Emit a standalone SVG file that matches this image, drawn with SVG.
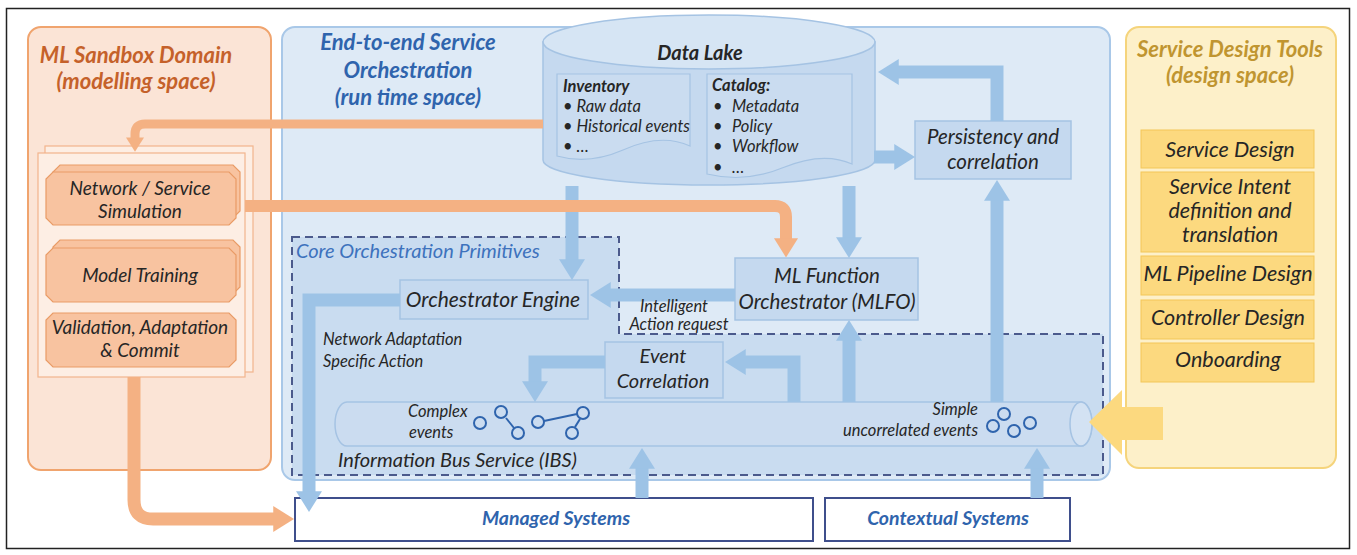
<svg xmlns="http://www.w3.org/2000/svg" width="1357" height="555" viewBox="0 0 1357 555">
<defs>
<style>
text{font-family:Lato,"Open Sans","Liberation Sans",sans-serif;font-style:italic;fill:#262626}
.t{font-weight:bold;font-size:22px}
.to{fill:#c5612a}
.tb{fill:#2f64ad}
.tg{fill:#c09530}
.ln{font-size:19px}
.rn{font-size:21.5px}
.bn{font-size:20.5px}
.dl{font-size:16.5px}
.sm{font-size:16.5px}
.m{text-anchor:middle}
.r{text-anchor:end}
.onode{fill:#f8c3a0;stroke:#e99b66;stroke-width:1.2}
.bbox{fill:#c5d9ef;stroke:#a5c3e3;stroke-width:1.5}
.ybox{fill:#fcd97f;stroke:#f3c658;stroke-width:1}
.sys{fill:#fff;stroke:#3f4f8c;stroke-width:2}
.syst{font-weight:bold;font-size:19.5px;fill:#2f64ad}
.ba{fill:none;stroke:#9dc3e6;stroke-width:13;marker-end:url(#hb)}
.oa{fill:none;stroke:#f4b183;marker-end:url(#ho)}
.ev{fill:none;stroke:#2f64ad;stroke-width:2}
</style>
<marker id="hb" viewBox="0 0 8 10" refX="0.3" refY="5" markerWidth="1.6" markerHeight="2" orient="auto" markerUnits="strokeWidth"><path d="M0,0 L8,5 L0,10 z" fill="#9dc3e6"/></marker>
<marker id="ho" viewBox="0 0 8 10" refX="0.3" refY="5" markerWidth="1.6" markerHeight="2" orient="auto" markerUnits="strokeWidth"><path d="M0,0 L8,5 L0,10 z" fill="#f4b183"/></marker>
</defs>
<rect x="0" y="0" width="1357" height="555" fill="#fff"/>
<rect x="6.5" y="8.5" width="1343" height="540" fill="none" stroke="#222" stroke-width="1.5"/>

<g id="ml-sandbox">
<rect x="28" y="27" width="243" height="443" rx="13" fill="#fbe4d6" stroke="#f0a46e" stroke-width="2"/>
<text class="t to m" x="136" y="63">ML Sandbox Domain</text>
<text class="t to m" x="136" y="89">(modelling space)</text>
<rect x="45" y="146" width="208" height="226" fill="#fdeee4" stroke="#f2b48c" stroke-width="1.2"/>
<rect x="38" y="153" width="207" height="224" fill="#fdeee4" stroke="#f2b48c" stroke-width="1.2"/>
</g>
<g id="sim">
<polygon class="onode" points="60,165 233,165 240,172 240,211 233,218 60,218 53,211 53,172"/>
<polygon class="onode" points="53,172 229,172 236,179 236,218 229,225 53,225 46,218 46,179"/>
<text class="ln m" x="140" y="195">Network / Service</text>
<text class="ln m" x="140" y="218">Simulation</text>
</g>
<g id="training">
<polygon class="onode" points="60,240 233,240 240,247 240,287 233,294 60,294 53,287 53,247"/>
<polygon class="onode" points="53,248 229,248 236,255 236,295 229,302 53,302 46,295 46,255"/>
<text class="ln m" x="140" y="282">Model Training</text>
</g>
<g id="validation">
<polygon class="onode" points="53,313 229,313 236,320 236,360 229,367 53,367 46,360 46,320"/>
<text class="ln m" x="140" y="334">Validation, Adaptation</text>
<text class="ln m" x="140" y="357">&amp; Commit</text>
</g>

<g id="orchestration">
<rect x="282" y="27" width="828" height="453" rx="13" fill="#deeaf6" stroke="#a9c8e8" stroke-width="2"/>
<text class="t tb m" x="408" y="50">End-to-end Service</text>
<text class="t tb m" x="408" y="78">Orchestration</text>
<text class="t tb m" x="408" y="105">(run time space)</text>
</g>
<g id="core-primitives">
<path d="M292,237 H619 V334 H1103 V475 H292 Z" fill="#c9dcf0" stroke="#4b5a8c" stroke-width="2" stroke-dasharray="8 5"/>
<text x="296" y="258" style="fill:#3d72bd;font-size:20px">Core Orchestration Primitives</text>
</g>

<g id="design-tools">
<rect x="1126" y="27" width="210" height="441" rx="13" fill="#fdf0c9" stroke="#f5d47c" stroke-width="2"/>
<text class="t tg m" x="1230" y="57">Service Design Tools</text>
<text class="t tg m" x="1230" y="83">(design space)</text>
</g>
<g id="service-design"><rect class="ybox" x="1141" y="130" width="173" height="38"/><text class="rn m" x="1230" y="157">Service Design</text></g>
<g id="service-intent"><rect class="ybox" x="1141" y="172" width="173" height="80"/><text class="rn m" x="1230" y="194">Service Intent</text><text class="rn m" x="1230" y="218">definition and</text><text class="rn m" x="1230" y="242">translation</text></g>
<g id="ml-pipeline"><rect class="ybox" x="1141" y="256" width="173" height="39"/><text class="rn m" x="1228" y="281">ML Pipeline Design</text></g>
<g id="controller"><rect class="ybox" x="1141" y="300" width="173" height="39"/><text class="rn m" x="1228" y="325">Controller Design</text></g>
<g id="onboarding"><rect class="ybox" x="1141" y="343" width="173" height="39"/><text class="rn m" x="1228" y="367">Onboarding</text></g>

<g id="data-lake">
<path d="M543,42 L543,160 A166,25 0 0 0 875,160 L875,42 Z" fill="#c5d9ef" stroke="#a5c3e3" stroke-width="1.5"/>
<ellipse cx="709" cy="42" rx="166" ry="27" fill="#d6e5f4" stroke="#a5c3e3" stroke-width="1.5"/>
<text class="m" x="700" y="60" style="font-weight:bold;font-size:20px">Data Lake</text>
<path d="M557,74 H690 V146 C668,136 645,140 623,150 C600,160 578,162 557,156 Z" fill="#cadcf0" stroke="#a5c3e3" stroke-width="1.2"/>
<text class="dl" x="563" y="92" style="font-weight:bold">Inventory</text>
<text class="dl" x="563" y="112">• Raw data</text>
<text class="dl" x="563" y="132">• Historical events</text>
<text class="dl" x="563" y="152">• …</text>
<path d="M707,74 H852 V164 C830,154 806,158 782,168 C758,178 732,180 707,174 Z" fill="#cadcf0" stroke="#a5c3e3" stroke-width="1.2"/>
<text class="dl" x="712" y="91" style="font-weight:bold">Catalog:</text>
<text class="dl" x="713" y="112">•</text><text class="dl" x="732" y="112">Metadata</text>
<text class="dl" x="713" y="132">•</text><text class="dl" x="732" y="132">Policy</text>
<text class="dl" x="713" y="152">•</text><text class="dl" x="732" y="152">Workflow</text>
<text class="dl" x="713" y="173">•</text><text class="dl" x="732" y="173">…</text>
</g>

<g id="persistency"><rect class="bbox" x="915" y="121" width="156" height="58"/><text class="bn m" x="993" y="144">Persistency and</text><text class="bn m" x="993" y="169">correlation</text></g>
<g id="orchestrator-engine"><rect class="bbox" x="400" y="280" width="188" height="39"/><text class="m" x="493" y="307" style="font-size:21px">Orchestrator Engine</text></g>
<g id="mlfo"><rect class="bbox" x="735" y="258" width="183" height="62"/><text class="bn m" x="827" y="283">ML Function</text><text class="bn m" x="827" y="309">Orchestrator (MLFO)</text></g>
<g id="event-correlation"><rect class="bbox" x="605" y="342" width="118" height="56"/><text class="m" x="663" y="363" style="font-size:20px">Event</text><text class="m" x="663" y="388" style="font-size:20px">Correlation</text></g>

<g id="ibs">
<path d="M347,402 H1081 A11,22 0 0 1 1081,446 H347 A12,22 0 0 1 347,402 Z" fill="#cbdcf0" stroke="#a5c3e3" stroke-width="1.5"/>
<ellipse cx="1081" cy="424" rx="11" ry="22" fill="#d3e2f3" stroke="#a5c3e3" stroke-width="1.5"/>
<text class="sm" x="408" y="417">Complex</text>
<text class="sm" x="409" y="438">events</text>
<text class="sm r" x="978" y="415">Simple</text>
<text class="sm r" x="978" y="436">uncorrelated events</text>
<text x="338" y="467" style="font-size:20px">Information Bus Service (IBS)</text>
<g class="ev">
<line x1="506" y1="418" x2="514" y2="428"/><line x1="544" y1="421" x2="577" y2="414"/><line x1="580" y1="419" x2="575" y2="427"/>
<circle cx="480" cy="423" r="6"/><circle cx="501" cy="412" r="6"/><circle cx="518" cy="433" r="6"/><circle cx="538" cy="422" r="6"/><circle cx="583" cy="413" r="6"/><circle cx="572" cy="433" r="6"/>
<circle cx="993" cy="426" r="6"/><circle cx="1004" cy="414" r="6"/><circle cx="1014" cy="431" r="6"/><circle cx="1030" cy="423" r="6"/>
</g>
</g>

<g id="managed-systems"><rect class="sys" x="295" y="498" width="518" height="43"/><text class="syst m" x="556" y="525">Managed Systems</text></g>
<g id="contextual-systems"><rect class="sys" x="825" y="498" width="245" height="43"/><text class="syst m" x="948" y="525">Contextual Systems</text></g>

<g id="connectors">
<path class="ba" d="M572,186 V260"/>
<path class="ba" d="M849,186 V238"/>
<path class="ba" d="M874,157 H895"/>
<path class="ba" d="M997,121 V72 H898"/>
<path class="ba" d="M997,402 V200"/>
<path class="ba" d="M735,295 H610"/>
<path class="ba" d="M400,300 H309 V492"/>
<path class="ba" d="M605,362 H535 V382"/>
<path class="ba" d="M794,402 V362 H745"/>
<path class="ba" d="M849,402 V340"/>
<path class="ba" d="M642,498 V468"/>
<path class="ba" d="M1037,498 V468"/>
<path class="oa" style="stroke-width:9" d="M543,124 H145 Q135,124 135,134 V138"/>
<path class="oa" style="stroke-width:12" d="M245,206 H775 Q786,206 786,217 V239"/>
<path class="oa" style="stroke-width:13" d="M134,377 V500 Q134,519 153,519 H274"/>
<polygon points="1163,407 1122,407 1122,390 1089,422 1122,455 1122,440 1163,440" fill="#fcd97f"/>
<text class="sm m" x="674" y="312">Intelligent</text>
<text class="sm m" x="679" y="330">Action request</text>
<text class="sm" x="323" y="345">Network Adaptation</text>
<text class="sm" x="323" y="367">Specific Action</text>
</g>
</svg>
